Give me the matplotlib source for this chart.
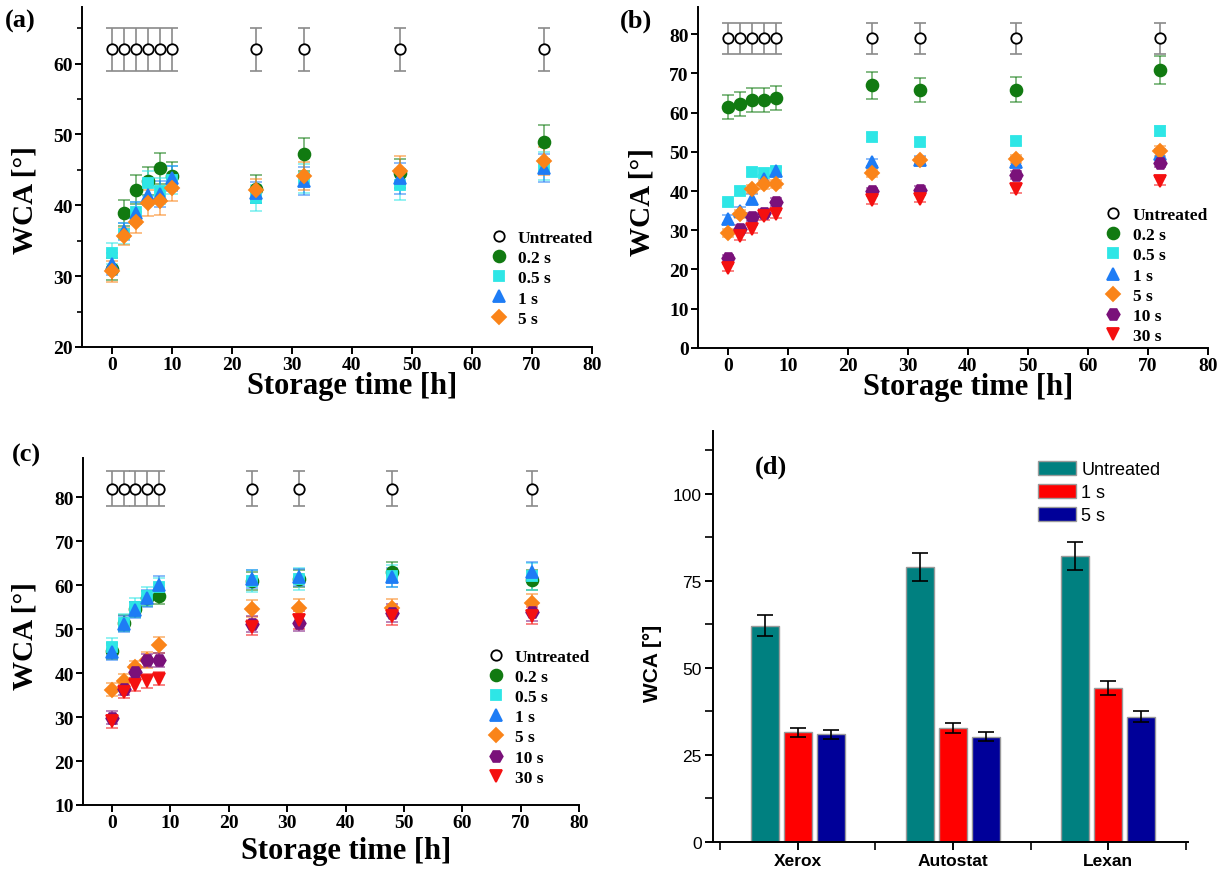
import matplotlib
matplotlib.use("Agg")
import matplotlib.pyplot as plt
from matplotlib.ticker import MultipleLocator

# storage times [h]
times_a = [0, 2, 4, 6, 8, 10, 24, 32, 48, 72]
times_bc = [0, 2, 4, 6, 8, 24, 32, 48, 72]

# panel (a) - Xerox
a_untreated = [62, 62, 62, 62, 62, 62, 62, 62, 62, 62]
a_untreated_err = [3, 3, 3, 3, 3, 3, 3, 3, 3, 3]
a_02 = [31.0, 38.9, 42.2, 43.4, 45.2, 44.1, 42.3, 47.2, 44.5, 48.9]
a_02_err = [1.5, 1.8, 2.0, 2.0, 2.2, 2.0, 2.0, 2.3, 2.0, 2.4]
a_05 = [33.2, 36.0, 39.0, 43.1, 42.0, 43.6, 41.0, 43.8, 42.9, 45.5]
a_05_err = [1.5, 1.5, 1.5, 1.8, 1.8, 2.0, 1.8, 2.0, 2.2, 2.0]
a_1 = [31.7, 36.3, 38.9, 41.5, 41.6, 43.8, 41.8, 43.4, 43.8, 45.3]
a_1_err = [1.5, 1.2, 1.5, 1.5, 1.8, 1.8, 1.5, 2.0, 2.2, 2.0]
a_5 = [30.7, 35.6, 37.6, 40.3, 40.6, 42.4, 42.2, 44.1, 44.9, 46.2]
a_5_err = [1.5, 1.2, 1.5, 1.8, 2.0, 1.8, 1.5, 2.0, 2.0, 2.0]

# panel (b) - Autostat
b_untreated = [79, 79, 79, 79, 79, 79, 79, 79, 79]
b_untreated_err = [4, 4, 4, 4, 4, 4, 4, 4, 4]
b_02 = [61.4, 62.2, 63.2, 63.2, 63.7, 67.0, 65.8, 65.8, 70.9]
b_02_err = [3.0, 3.0, 3.0, 3.0, 3.0, 3.5, 3.0, 3.2, 3.5]
b_05 = [37.1, 40.0, 44.8, 44.7, 45.0, 53.7, 52.6, 52.8, 55.3]
b_05_err = [1.0, 1.0, 1.0, 1.0, 1.0, 1.0, 1.0, 1.0, 1.2]
b_1 = [32.8, 35.0, 38.0, 43.0, 45.1, 47.3, 48.0, 47.5, 49.5]
b_1_err = [1.0, 1.0, 1.2, 1.2, 1.0, 1.0, 1.0, 1.2, 1.2]
b_5 = [29.4, 34.1, 40.6, 41.7, 41.8, 44.5, 47.8, 48.1, 50.2]
b_5_err = [1.0, 1.0, 1.0, 1.2, 1.0, 1.0, 1.0, 1.0, 1.2]
b_10 = [22.8, 30.4, 33.4, 34.5, 37.3, 39.9, 40.2, 44.0, 47.1]
b_10_err = [1.0, 1.0, 1.0, 1.0, 1.0, 1.0, 1.0, 1.0, 1.0]
b_30 = [20.5, 28.6, 30.3, 33.7, 34.1, 37.7, 38.1, 40.6, 42.6]
b_30_err = [1.0, 1.0, 1.0, 1.0, 1.0, 1.0, 1.0, 1.0, 1.0]

# panel (c) - Lexan
c_untreated = [82, 82, 82, 82, 82, 82, 82, 82, 82]
c_untreated_err = [4, 4, 4, 4, 4, 4, 4, 4, 4]
c_02 = [45.0, 51.5, 54.5, 57.0, 57.6, 61.0, 61.5, 63.0, 61.2]
c_02_err = [1.8, 1.8, 1.8, 1.8, 1.8, 2.0, 2.0, 2.2, 2.2]
c_05 = [46.0, 51.5, 55.0, 57.5, 59.5, 61.0, 61.5, 62.0, 62.0]
c_05_err = [2.0, 2.0, 2.2, 2.2, 2.2, 2.5, 2.5, 2.5, 3.0]
c_1 = [44.7, 51.2, 54.3, 57.0, 60.0, 61.4, 61.8, 61.8, 63.0]
c_1_err = [1.8, 1.8, 1.8, 2.0, 2.0, 2.0, 2.0, 2.2, 2.2]
c_5 = [36.2, 38.2, 41.3, 43.0, 46.4, 54.7, 54.9, 54.9, 55.9]
c_5_err = [1.5, 1.5, 1.5, 1.8, 1.8, 2.0, 2.0, 2.0, 2.0]
c_10 = [29.9, 36.5, 40.3, 42.9, 43.0, 51.2, 51.5, 53.7, 53.9]
c_10_err = [1.5, 1.5, 1.5, 1.5, 1.5, 1.8, 1.8, 2.0, 2.0]
c_30 = [29.0, 35.8, 37.4, 38.2, 38.7, 50.4, 52.1, 52.9, 53.1]
c_30_err = [1.5, 1.5, 1.5, 1.5, 1.5, 1.8, 2.0, 2.0, 2.0]

# panel (d) - bar chart
substrates = ["Xerox", "Autostat", "Lexan"]
d_labels = ["Untreated", "1 s", "5 s"]
d_untreated = [62, 79, 82]
d_untreated_err = [3, 4, 4]
d_1s = [31.5, 32.7, 44.2]
d_1s_err = [1.3, 1.5, 2.0]
d_5s = [30.9, 30.1, 35.9]
d_5s_err = [1.3, 1.3, 1.6]

styles = {
    "Untreated": dict(marker="o", mfc="white", mec="black", ecolor="#8a8a8a", ms=7.5),
    "0.2 s": dict(marker="o", mfc="#117a11", mec="#117a11", ecolor="#117a11", ms=8.5),
    "0.5 s": dict(marker="s", mfc="#2ee6e6", mec="#2ee6e6", ecolor="#2ee6e6", ms=7.5),
    "1 s": dict(marker="^", mfc="#1e7cf5", mec="#1e7cf5", ecolor="#1e7cf5", ms=9),
    "5 s": dict(marker="D", mfc="#fa8419", mec="#fa8419", ecolor="#fa8419", ms=7.5),
    "10 s": dict(marker="H", mfc="#7a117a", mec="#7a117a", ecolor="#7a117a", ms=9),
    "30 s": dict(marker="v", mfc="#f41010", mec="#f41010", ecolor="#f41010", ms=9),
}

serif = "Liberation Serif"
sans = "Liberation Sans"


def scatter_panel(ax, x, series, ylim, yticks, legend_loc, ylabel_pos, xlabel_pos,
                  minor_y=None):
    for label, y, err in series:
        st = styles[label]
        ax.errorbar(x, y, yerr=err, fmt="none", ecolor=st["ecolor"],
                    elinewidth=1.2, capsize=4, capthick=1.2,
                    alpha=1.0 if label == "Untreated" else 0.6, zorder=2)
        ax.plot(x, y, linestyle="none", marker=st["marker"], ms=st["ms"],
                mfc=st["mfc"], mec=st["mec"], mew=1.3, label=label, zorder=3)
    ax.set_xlim(-5, 80)
    ax.set_ylim(*ylim)
    ax.set_yticks(yticks)
    ax.set_xticks(range(0, 81, 10))
    if minor_y:
        ax.yaxis.set_minor_locator(MultipleLocator(minor_y))
    for s in ["top", "right"]:
        ax.spines[s].set_visible(False)
    for s in ["left", "bottom"]:
        ax.spines[s].set_linewidth(1.4)
    ax.tick_params(direction="out", length=5, width=1.4, labelsize=14, pad=1.5)
    ax.tick_params(which="minor", direction="out", length=3.5, width=1.2)
    for t in ax.get_xticklabels() + ax.get_yticklabels():
        t.set_fontfamily(serif)
        t.set_fontweight("bold")
    ax.set_xlabel("Storage time [h]", fontfamily=serif, fontweight="bold",
                  fontsize=22)
    ax.xaxis.set_label_coords(*xlabel_pos)
    ax.set_ylabel("WCA [°]", fontfamily=serif, fontweight="bold", fontsize=21)
    ax.yaxis.set_label_coords(*ylabel_pos)
    ax.legend(loc="upper left", bbox_to_anchor=legend_loc, frameon=False,
              prop=dict(family=serif, weight="bold", size=12.5),
              handletextpad=0.6, labelspacing=0.23, handlelength=1.0,
              borderpad=0, borderaxespad=0)


fig = plt.figure(figsize=(12.2, 8.7), dpi=100)

ax_a = fig.add_axes([0.0672, 0.600, 0.418, 0.391])
scatter_panel(ax_a, times_a, [
    ("Untreated", a_untreated, a_untreated_err),
    ("0.2 s", a_02, a_02_err),
    ("0.5 s", a_05, a_05_err),
    ("1 s", a_1, a_1_err),
    ("5 s", a_5, a_5_err),
], (20, 68), range(20, 61, 10), (0.80, 0.344), (-0.086, 0.435), (0.53, -0.072),
    minor_y=5)

ax_b = fig.add_axes([0.572, 0.599, 0.418, 0.392])
scatter_panel(ax_b, times_bc, [
    ("Untreated", b_untreated, b_untreated_err),
    ("0.2 s", b_02, b_02_err),
    ("0.5 s", b_05, b_05_err),
    ("1 s", b_1, b_1_err),
    ("5 s", b_5, b_5_err),
    ("10 s", b_10, b_10_err),
    ("30 s", b_30, b_30_err),
], (0, 87), range(0, 81, 10), (0.798, 0.413), (-0.084, 0.43), (0.53, -0.072))

ax_c = fig.add_axes([0.068, 0.0736, 0.4066, 0.399])
scatter_panel(ax_c, times_bc, [
    ("Untreated", c_untreated, c_untreated_err),
    ("0.2 s", c_02, c_02_err),
    ("0.5 s", c_05, c_05_err),
    ("1 s", c_1, c_1_err),
    ("5 s", c_5, c_5_err),
    ("10 s", c_10, c_10_err),
    ("30 s", c_30, c_30_err),
], (10, 89), range(10, 81, 10), (0.815, 0.45), (-0.09, 0.49), (0.53, -0.088))

# panel (d)
ax_d = fig.add_axes([0.5844, 0.0314, 0.389, 0.472])
pos = list(range(len(substrates)))
bw = 0.18
step = 0.213
bar_sets = [
    (d_untreated, d_untreated_err, "#008080"),
    (d_1s, d_1s_err, "#ff0000"),
    (d_5s, d_5s_err, "#000099"),
]
for i, (vals, errs, col) in enumerate(bar_sets):
    xs = [p + (i - 1) * step for p in pos]
    ax_d.bar(xs, vals, width=bw, color=col, edgecolor="#9a9a9a",
             linewidth=1.0, label=d_labels[i], zorder=2)
    ax_d.errorbar(xs, vals, yerr=errs, fmt="none", ecolor="black",
                  elinewidth=1.2, capsize=6, capthick=1.2, zorder=3)
ax_d.set_xlim(-0.545, 2.51)
ax_d.set_ylim(0, 118)
ax_d.set_yticks([0, 25, 50, 75, 100])
ax_d.yaxis.set_minor_locator(MultipleLocator(12.5))
ax_d.set_xticks(pos)
ax_d.set_xticks([-0.5, 0.5, 1.5, 2.5], minor=True)
ax_d.set_xticklabels(substrates)
for s in ["top", "right"]:
    ax_d.spines[s].set_visible(False)
for s in ["left", "bottom"]:
    ax_d.spines[s].set_linewidth(1.4)
ax_d.tick_params(direction="out", length=6, width=1.4, labelsize=12.5, pad=2)
ax_d.tick_params(which="minor", direction="out", length=6, width=1.2)
for t in ax_d.get_yticklabels():
    t.set_fontfamily(sans)
for t in ax_d.get_xticklabels():
    t.set_fontfamily(sans)
    t.set_fontweight("bold")
ax_d.set_ylabel("WCA [°]", fontfamily=sans, fontweight="bold", fontsize=15)
ax_d.yaxis.set_label_coords(-0.107, 0.4375)
ax_d.legend(loc="upper left", bbox_to_anchor=(0.684, 0.927), frameon=False,
            prop=dict(family=sans, size=13), handlelength=2.15, handleheight=0.85,
            handletextpad=0.28, labelspacing=0.3, borderpad=0, borderaxespad=0)

# panel letters
fig.text(0.004, 0.975, "(a)", fontfamily=serif, fontweight="bold", fontsize=19, va="center")
fig.text(0.508, 0.975, "(b)", fontfamily=serif, fontweight="bold", fontsize=19, va="center")
fig.text(0.010, 0.477, "(c)", fontfamily=serif, fontweight="bold", fontsize=19, va="center")
fig.text(0.619, 0.463, "(d)", fontfamily=serif, fontweight="bold", fontsize=19, va="center")

fig.savefig("out.png", dpi=100)
